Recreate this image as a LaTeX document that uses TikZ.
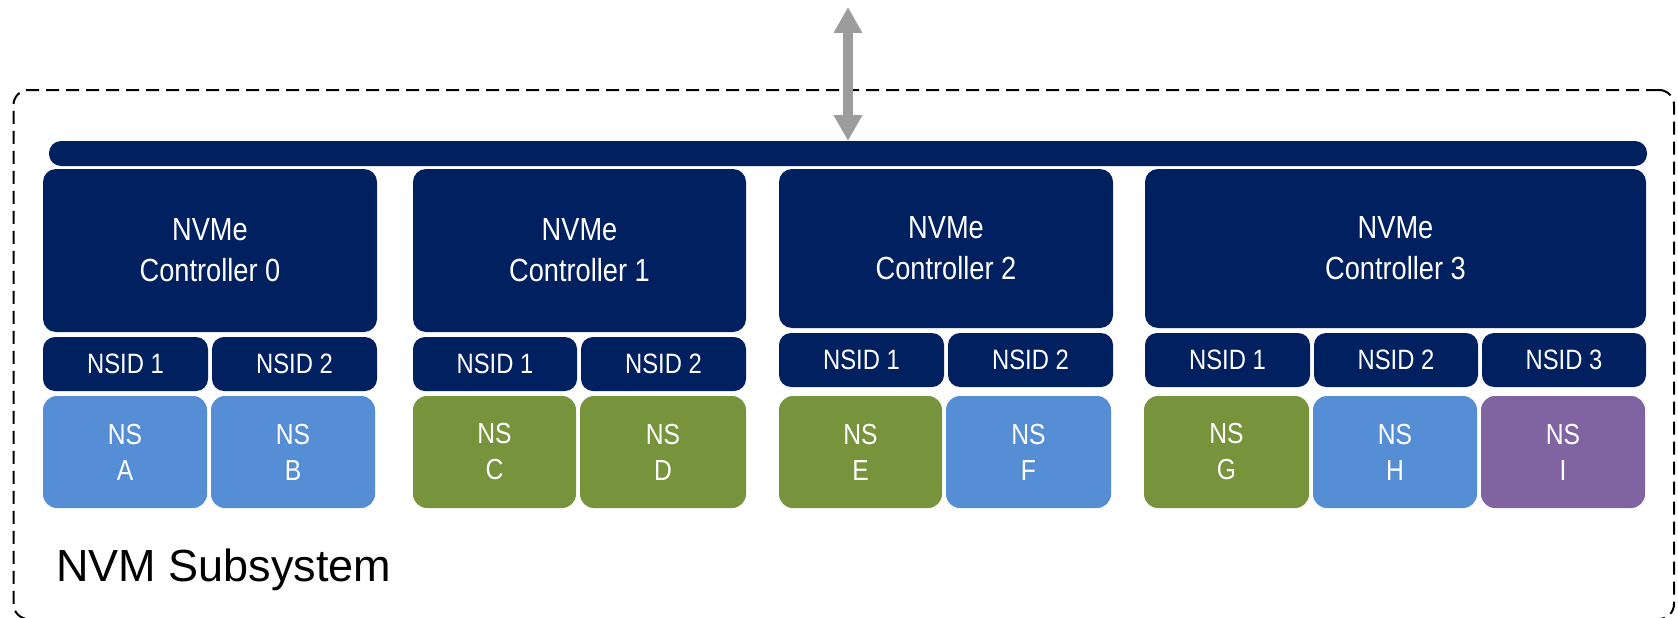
\documentclass[tikz,border=0pt]{standalone}
\usepackage{fontspec}
\setmainfont{Liberation Sans}
\newfontfamily\narrowsans{Liberation Sans}[FakeStretch=0.85]
\usetikzlibrary{arrows.meta}
\definecolor{navy}{HTML}{002060}
\definecolor{nsblue}{HTML}{558ED5}
\definecolor{nsgreen}{HTML}{77933C}
\definecolor{nspurple}{HTML}{8064A2}
\definecolor{linkgray}{HTML}{9C9C9C}

% a box given by its corners: name, style, x1, y1, x2, y2, text
\newcommand\placebox[7]{%
  \node[#2, minimum width={(#5-#3)*1pt}, minimum height={(#6-#4)*1pt}]
    (#1) at ({(#3+#5)/2},{(#4+#6)/2}) {#7};}

\begin{document}
\begin{tikzpicture}[x=1pt,y=-1pt,
  boxbase/.style={inner sep=0pt, outer sep=0pt, align=center, text=white},
  bar/.style={boxbase, fill=navy, rounded corners=12pt},
  ctrl/.style={boxbase, fill=navy, rounded corners=13pt,
    font=\narrowsans\fontsize{32}{41}\selectfont},
  nsid/.style={boxbase, fill=navy, rounded corners=12pt,
    font=\narrowsans\fontsize{28}{34}\selectfont},
  ns/.style={boxbase, rounded corners=14pt,
    font=\narrowsans\fontsize{29}{36}\selectfont},
  frame/.style={draw=black, line width=2pt, dash pattern=on 13pt off 7pt,
    rounded corners=15pt, inner sep=0pt},
  link/.style={draw=linkgray, line width=10pt,
    {Triangle[width=27pt,length=26pt]}-{Triangle[width=27pt,length=26pt]}}
]
\fill[white] (0,0) rectangle (1678,618);
\useasboundingbox (0,0) rectangle (1678,618);

% subsystem outline
\placebox{subsys}{frame}{13.5}{90}{1674}{619}{}
\node[anchor=base west, inner sep=0pt, font=\fontsize{45}{54}\selectfont]
  (subsyslabel) at (56,581) {NVM Subsystem};

% shared bus
\placebox{bus}{bar}{49}{141}{1647}{166}{}

% controllers
\placebox{c0}{ctrl}{43}{169}{377}{332}{NVMe\\Controller 0}
\placebox{c1}{ctrl}{413}{169}{746}{332}{NVMe\\Controller 1}
\placebox{c2}{ctrl}{779}{169}{1113}{328}{NVMe\\Controller 2}
\placebox{c3}{ctrl}{1145}{169}{1646}{328}{NVMe\\Controller 3}

% namespace IDs
\placebox{c0n1}{nsid}{43}{337}{208}{391}{NSID 1}
\placebox{c0n2}{nsid}{212}{337}{377}{391}{NSID 2}
\placebox{c1n1}{nsid}{413}{337}{577}{391}{NSID 1}
\placebox{c1n2}{nsid}{581}{337}{746}{391}{NSID 2}
\placebox{c2n1}{nsid}{779}{333}{944}{387}{NSID 1}
\placebox{c2n2}{nsid}{948}{333}{1113}{387}{NSID 2}
\placebox{c3n1}{nsid}{1145}{333}{1310}{387}{NSID 1}
\placebox{c3n2}{nsid}{1314}{333}{1478}{387}{NSID 2}
\placebox{c3n3}{nsid}{1482}{333}{1646}{387}{NSID 3}

% namespaces
\placebox{nsA}{ns,fill=nsblue}{43}{396}{207}{508}{NS\\A}
\placebox{nsB}{ns,fill=nsblue}{211}{396}{375}{508}{NS\\B}
\placebox{nsC}{ns,fill=nsgreen}{413}{396}{576}{508}{NS\\C}
\placebox{nsD}{ns,fill=nsgreen}{580}{396}{746}{508}{NS\\D}
\placebox{nsE}{ns,fill=nsgreen}{779}{396}{942}{508}{NS\\E}
\placebox{nsF}{ns,fill=nsblue}{946}{396}{1111}{508}{NS\\F}
\placebox{nsG}{ns,fill=nsgreen}{1144}{396}{1309}{508}{NS\\G}
\placebox{nsH}{ns,fill=nsblue}{1313}{396}{1477}{508}{NS\\H}
\placebox{nsI}{ns,fill=nspurple}{1481}{396}{1645}{508}{NS\\I}

% host link
\coordinate (host) at (848,7);
\draw[link] (host) -- (bus.north);
\end{tikzpicture}
\end{document}
